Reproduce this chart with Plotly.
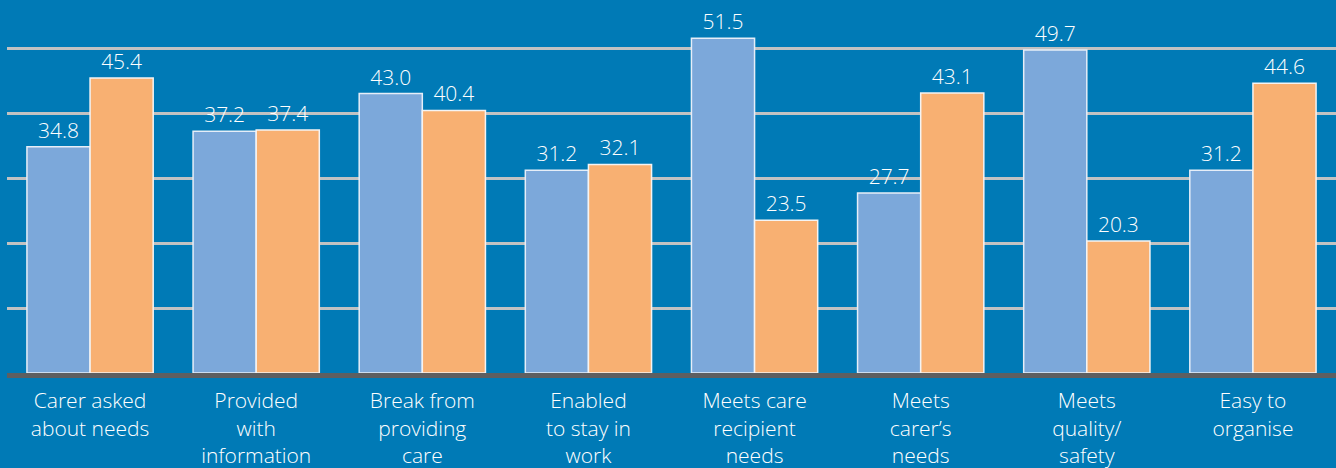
import plotly.graph_objects as go

categories = [
    "Carer asked<br>about needs",
    "Provided<br>with<br>information",
    "Break from<br>providing<br>care",
    "Enabled<br>to stay in<br>work",
    "Meets care<br>recipient<br>needs",
    "Meets<br>carer’s<br>needs",
    "Meets<br>quality/<br>safety",
    "Easy to<br>organise",
]
series_a = [34.8, 37.2, 43.0, 31.2, 51.5, 27.7, 49.7, 31.2]
series_b = [45.4, 37.4, 40.4, 32.1, 23.5, 43.1, 20.3, 44.6]

BG = "#007ab6"
BLUE = "#7ca8da"
ORANGE = "#f8b072"
FONT = "Open Sans"

fig = go.Figure()
fig.add_trace(go.Bar(
    x=categories, y=series_a, name="A",
    marker=dict(color=BLUE, line=dict(color="#e6eef8", width=1.5)),
    text=[f"{v:.1f}" for v in series_a], textposition="outside",
    textfont=dict(color="white", size=21, family=FONT, weight=300),
    cliponaxis=False,
))
fig.add_trace(go.Bar(
    x=categories, y=series_b, name="B",
    marker=dict(color=ORANGE, line=dict(color="#f4f4f4", width=1.5)),
    text=[f"{v:.1f}" for v in series_b], textposition="outside",
    textfont=dict(color="white", size=21, family=FONT, weight=300),
    cliponaxis=False,
))

fig.update_layout(
    width=1336, height=468,
    margin=dict(l=7, r=0, t=0, b=95, autoexpand=False),
    paper_bgcolor=BG, plot_bgcolor=BG,
    barmode="group", bargap=0.24, bargroupgap=0,
    showlegend=False,
    font=dict(family=FONT, color="white", size=21),
)
fig.update_xaxes(
    showline=True, linecolor="#5e5f61", linewidth=5,
    showgrid=False, ticks="", ticklabelstandoff=5, automargin=False,
    tickfont=dict(size=21, color="white", family=FONT, weight=300),
)
fig.update_yaxes(
    range=[0, 57.4], dtick=10, showgrid=True, gridcolor="#c2c2c2", gridwidth=3,
    zeroline=False, showticklabels=False, showline=False, automargin=False,
)

fig.write_html("out.html", config={"displayModeBar": False},
               post_script="document.body.style.margin='0';")
